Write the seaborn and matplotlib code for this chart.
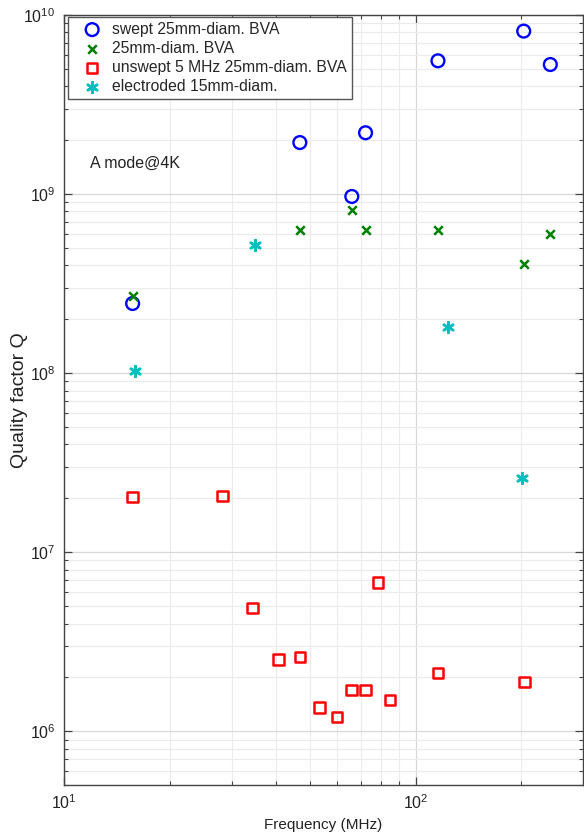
import matplotlib
matplotlib.use("Agg")
import matplotlib.pyplot as plt
import seaborn as sns
import pandas as pd
import numpy as np
from matplotlib.ticker import LogLocator, NullFormatter

# ---- data ----
swept_f = [15.7, 46.9, 65.9, 72.1, 115.8, 203, 241.6]
swept_q = [2.45e8, 1.94e9, 9.7e8, 2.2e9, 5.55e9, 8.13e9, 5.29e9]

bva_f = [15.7, 46.9, 65.9, 72.1, 115.8, 204, 241.5]
bva_q = [2.70e8, 6.3e8, 8.1e8, 6.27e8, 6.34e8, 4.07e8, 6.0e8]

unswept_f = [15.7, 28.3, 34.4, 40.8, 46.9, 53.3, 59.7, 65.8, 72.1, 78.3, 84.5, 115.9, 204]
unswept_q = [2.04e7, 2.06e7, 4.87e6, 2.52e6, 2.6e6, 1.36e6, 1.2e6, 1.70e6, 1.70e6, 6.78e6, 1.50e6, 2.12e6, 1.89e6]

elec_f = [15.9, 34.96, 123.8, 200.4]
elec_q = [1.03e8, 5.17e8, 1.8e8, 2.61e7]

labels = ["swept 25mm-diam. BVA", "25mm-diam. BVA",
          "unswept 5 MHz 25mm-diam. BVA", "electroded 15mm-diam."]

sns.set_theme(style="ticks")
plt.rcParams["font.family"] = ["Liberation Sans", "DejaVu Sans"]
plt.rcParams["mathtext.fontset"] = "custom"
plt.rcParams["mathtext.rm"] = "Liberation Sans"
plt.rcParams["mathtext.it"] = "Liberation Sans:italic"

fig = plt.figure(figsize=(5.84, 8.33), dpi=100)
ax = fig.add_axes([63.7 / 584, 1 - 785.3 / 833, (584 - 63.7 - 0.6) / 584, (785.3 - 15) / 833])

blue = "#0000ff"
green = "#008000"
red = "#ff0000"
cyan = "#00bfbf"

sns.scatterplot(x=swept_f, y=swept_q, ax=ax, marker="o", s=85,
                facecolor="none", edgecolor=blue, linewidth=1.7, label=labels[0], zorder=3)
sns.scatterplot(x=bva_f, y=bva_q, ax=ax, marker="x", s=38,
                color=green, linewidth=1.8, label=labels[1], zorder=3)
sns.scatterplot(x=unswept_f, y=unswept_q, ax=ax, marker="s", s=56,
                facecolor="none", edgecolor=red, linewidth=1.8, label=labels[2], zorder=3)
sns.scatterplot(x=elec_f, y=elec_q, ax=ax, marker=(6, 2, 0), s=58,
                color=cyan, linewidth=1.9, label=labels[3], zorder=3)

ax.set_xscale("log")
ax.set_yscale("log")
ax.set_xlim(10, 300)
ax.set_ylim(5e5, 1e10)

ax.xaxis.set_major_locator(LogLocator(base=10))
ax.xaxis.set_minor_locator(LogLocator(base=10, subs=np.arange(2, 10)))
ax.xaxis.set_minor_formatter(NullFormatter())
ax.yaxis.set_major_locator(LogLocator(base=10, numticks=20))
ax.yaxis.set_minor_locator(LogLocator(base=10, subs=np.arange(2, 10), numticks=20))
ax.yaxis.set_minor_formatter(NullFormatter())

ax.grid(which="major", color="#d8d8d8", linewidth=0.9)
ax.grid(which="minor", color="#ebebeb", linewidth=0.8)
ax.set_axisbelow(True)

spine_c = "#444444"
for sp in ax.spines.values():
    sp.set_visible(True)
    sp.set_color(spine_c)
    sp.set_linewidth(1.0)
ax.tick_params(which="both", direction="in", top=True, right=True, color=spine_c,
               labelsize=11.5, labelcolor="#222222")
ax.tick_params(which="major", length=6, width=0.9, pad=6)
ax.tick_params(which="minor", length=3, width=0.8)

ax.set_xlabel("Frequency (MHz)", fontsize=11, color="#222222", labelpad=4)
ax.set_ylabel("Quality factor Q", fontsize=14, color="#222222", va="center")
ax.yaxis.set_label_coords(-0.086, 0.5)

ax.text(11.9, 1.49e9, "A mode@4K", fontsize=11.5, ha="left", va="center", color="#222222")

leg = ax.legend(loc="upper left", bbox_to_anchor=(4.6 / 520.3, 1 - 1.7 / 770.3),
                borderaxespad=0, fontsize=11.3, frameon=True, fancybox=False,
                edgecolor="#555555", framealpha=1, handletextpad=0.05,
                labelspacing=0.26, borderpad=0.32, handlelength=2.4)
leg.get_frame().set_linewidth(1.0)

fig.savefig("out.png", dpi=100)
